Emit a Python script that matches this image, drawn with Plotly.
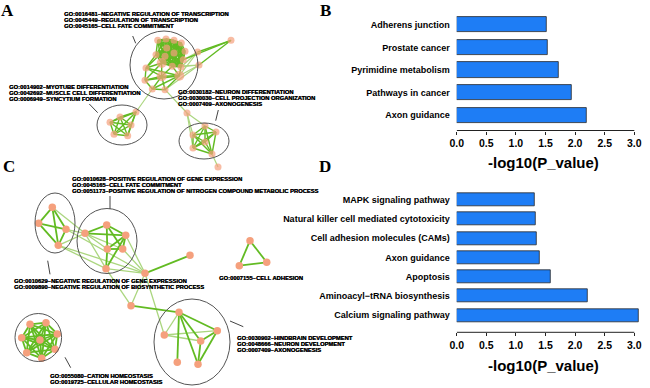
import plotly.graph_objects as go

W, H = 650, 388

# ---------------- Bar chart data ----------------
b_terms = ["Adherens junction", "Prostate cancer", "Pyrimidine metabolism",
           "Pathways in cancer", "Axon guidance"]
b_values = [1.52, 1.54, 1.72, 1.95, 2.20]

d_terms = ["MAPK signaling pathway", "Natural killer cell mediated cytotoxicity",
           "Cell adhesion molecules (CAMs)", "Axon guidance", "Apoptosis",
           "Aminoacyl\u2212tRNA biosynthesis", "Calcium signaling pathway"]
d_values = [1.32, 1.33, 1.35, 1.40, 1.59, 2.21, 3.07]

x_ticks = [0.0, 0.5, 1.0, 1.5, 2.0, 2.5, 3.0]
x_title = "-log10(P_value)"

# ---------------- Network A (node layout positions) ----------------
a_nodes_x = [157.7, 166, 174, 181.3, 166.7, 174, 185, 156, 165, 183.3, 161.7, 172.3, 181,
             146, 161.7, 179.3, 145, 152.3, 165, 197.7, 199, 231,
             120, 136, 110, 131, 114, 127.7,
             187, 205, 216, 193, 205, 193, 212, 218]
a_nodes_y = [40.3, 39, 40.3, 43, 48, 53, 51.3, 54.7, 56.3, 59.7, 63, 66.3, 67,
             68, 76.3, 75.7, 80.3, 89, 89.7, 52, 65, 40.3,
             117, 112, 122.3, 125, 134.3, 135.7,
             113, 126, 132, 135, 142, 148, 154, 167]
a_nodes_size = [7] * 10 + [10] + [7] * 3 + [10, 10] + [7] * 20

a_core = list(range(13))
a_thick = [(i, j) for i in a_core for j in a_core if i < j]
a_thick += [(13, 14), (13, 15), (13, 16), (14, 15), (14, 16), (14, 17), (14, 18), (15, 16),
            (15, 17), (15, 18), (16, 17), (17, 18), (15, 12), (14, 10), (13, 10), (13, 7),
            (16, 10), (15, 11), (14, 11), (13, 4),
            (21, 19), (21, 20), (21, 9)]
myo = [22, 23, 24, 25, 26, 27]
a_thick += [(i, j) for i in myo for j in myo if i < j]
neu = [29, 30, 31, 32, 33, 34]
a_thick += [(i, j) for i in neu for j in neu if i < j]
a_light = [(19, 15), (19, 12), (20, 15), (20, 12), (20, 11), (19, 9), (17, 23), (18, 28),
           (28, 31), (28, 29), (28, 33), (34, 35), (20, 18)]

# ---------------- Network C ----------------
c_nodes_x = [52.3, 38.7, 66, 58.3, 85, 106.7, 125.7, 107.3, 122.7, 106, 145, 190, 131,
             179, 164.3, 217.3, 200.7, 177.3, 198,
             250, 239.3, 266.7,
             30, 46, 57.3, 21.7, 40, 55, 26.7, 41.7]
c_nodes_y = [207.3, 223.3, 229.3, 245.3, 233.3, 225, 235.3, 249, 249, 268.7, 273.3, 255.3, 305.7,
             312.3, 335, 330.7, 341, 362.3, 364.3,
             240.7, 265.7, 262.3,
             324.3, 322.7, 334, 337.7, 340, 349.3, 352.7, 358.3]

left = [0, 1, 2, 3]
c_thick = [(i, j) for i in left for j in left if i < j]
c_thick += [(4, 5), (4, 6), (5, 6), (5, 7), (6, 7), (6, 8), (7, 8), (5, 8), (7, 9), (6, 9),
            (10, 11), (12, 13), (13, 15), (13, 16), (13, 17), (13, 18), (15, 16), (15, 18),
            (16, 18), (19, 20), (19, 21), (20, 21)]
bl = list(range(22, 30))
c_thick += [(i, j) for i in bl for j in bl if i < j]
c_light = [(2, 4), (0, 4), (3, 4), (3, 9), (2, 10), (3, 10), (4, 7), (4, 8), (4, 9),
           (9, 10), (6, 10), (10, 12), (9, 12), (10, 14), (13, 14), (14, 15), (14, 16), (8, 10)]

# ellipses: cx, cy, rx, ry
ellipses = [(164, 65, 34, 34), (122, 125, 25, 20), (204, 141, 25, 18),
            (55, 223, 20, 30), (107, 241, 30, 32.5), (192, 342, 38, 43), (38.3, 337.5, 23.3, 24)]
leaders = [(132.7, 36, 135.7, 43.3), (89.3, 104, 97.7, 112.7), (218.3, 110, 215.7, 120.7),
           (110, 196, 110, 209), (47.7, 260.7, 50, 274.3), (230, 321, 243.3, 326.7),
           (65, 357.3, 70.7, 367.7)]

labels = [
    (62.3, 13.7, ["GO:0016481~NEGATIVE REGULATION OF TRANSCRIPTION",
                  "GO:0045449~REGULATION OF TRANSCRIPTION",
                  "GO:0045165~CELL FATE COMMITMENT"]),
    (7.3, 86.7, ["GO:0014902~MYOTUBE DIFFERENTIATION",
                 "GO:0042692~MUSCLE CELL DIFFERENTIATION",
                 "GO:0006949~SYNCYTIUM FORMATION"]),
    (176, 92, ["GO:0030182~NEURON DIFFERENTIATION",
               "GO:0030030~CELL PROJECTION ORGANIZATION",
               "GO:0007409~AXONOGENESIS"]),
    (70, 179, ["GO:0010628~POSITIVE REGULATION OF GENE EXPRESSION",
               "GO:0045165~CELL FATE COMMITMENT",
               "GO:0051173~POSITIVE REGULATION OF NITROGEN COMPOUND METABOLIC PROCESS"]),
    (12.3, 281, ["GO:0010629~NEGATIVE REGULATION OF GENE EXPRESSION",
                 "GO:0009890~NEGATIVE REGULATION OF BIOSYNTHETIC PROCESS"]),
    (217.3, 278.3, ["GO:0007155~CELL ADHESION"]),
    (235.3, 337.7, ["GO:0030902~HINDBRAIN DEVELOPMENT",
                    "GO:0048666~NEURON DEVELOPMENT",
                    "GO:0007409~AXONOGENESIS"]),
    (48.3, 375.7, ["GO:0055080~CATION HOMEOSTASIS",
                   "GO:0019725~CELLULAR HOMEOSTASIS"]),
]
panel_letters = [("A", 7.5, 10), ("B", 325, 10), ("C", 8.7, 166), ("D", 325, 166)]

THICK = "#62BB22"
LIGHT = "#ABD67F"
NODE = "#F5A07D"
BLUE = "#1E7DF5"

fig = go.Figure()


def edge_trace(xs, ys, edges, color, width):
    ex, ey = [], []
    for i, j in edges:
        ex += [xs[i], xs[j], None]
        ey += [ys[i], ys[j], None]
    return go.Scatter(x=ex, y=ey, mode="lines", line=dict(color=color, width=width),
                      hoverinfo="skip", showlegend=False, xaxis="x", yaxis="y")


fig.add_trace(edge_trace(a_nodes_x, a_nodes_y, a_light, LIGHT, 1.2))
fig.add_trace(edge_trace(a_nodes_x, a_nodes_y, a_thick, THICK, 1.4))
fig.add_trace(edge_trace(c_nodes_x, c_nodes_y, c_light, LIGHT, 1.3))
fig.add_trace(edge_trace(c_nodes_x, c_nodes_y, c_thick, THICK, 1.8))
fig.add_trace(go.Scatter(x=a_nodes_x, y=a_nodes_y, mode="markers",
                         marker=dict(color=NODE, size=a_nodes_size, line=dict(width=0)),
                         showlegend=False, xaxis="x", yaxis="y"))
fig.add_trace(go.Scatter(x=c_nodes_x, y=c_nodes_y, mode="markers",
                         marker=dict(color=NODE, size=7.5, line=dict(width=0)),
                         showlegend=False, xaxis="x", yaxis="y"))

# bars
fig.add_trace(go.Bar(x=b_values[::-1], y=list(range(len(b_terms))), orientation="h",
                     width=0.67, marker=dict(color=BLUE, line=dict(color="#2a2a2a", width=0.8)),
                     showlegend=False, xaxis="x2", yaxis="y2"))
fig.add_trace(go.Bar(x=d_values[::-1], y=list(range(len(d_terms))), orientation="h",
                     width=0.67, marker=dict(color=BLUE, line=dict(color="#2a2a2a", width=0.8)),
                     showlegend=False, xaxis="x3", yaxis="y3"))

shapes = []
for cx, cy, rx, ry in ellipses:
    shapes.append(dict(type="circle", xref="x", yref="y", x0=cx - rx, x1=cx + rx,
                       y0=cy - ry, y1=cy + ry, line=dict(color="#555555", width=1)))
for x0, y0, x1, y1 in leaders:
    shapes.append(dict(type="line", xref="x", yref="y", x0=x0, y0=y0, x1=x1, y1=y1,
                       line=dict(color="#444444", width=1)))
for ax in ["2", "3"]:
    shapes.append(dict(type="line", xref="x" + ax, yref="y" + ax + " domain",
                       x0=0, x1=3, y0=0, y1=0, line=dict(color="#222222", width=1)))

annotations = []
for x0, y0, lines in labels:
    for k, t in enumerate(lines):
        annotations.append(dict(x=x0, y=y0 + 6 * k, xref="x", yref="y", text=t,
                                showarrow=False, xanchor="left", yanchor="middle",
                                font=dict(family="Liberation Sans, Arial", size=5.8,
                                          color="black", weight="bold",
                                          shadow="0.35px 0px 0px black")))
for t, x0, y0 in panel_letters:
    annotations.append(dict(x=x0, y=y0, xref="x", yref="y", text=t, showarrow=False,
                            xanchor="center", yanchor="middle",
                            font=dict(family="Liberation Serif, Times New Roman", size=17,
                                      color="black", weight="bold")))
for yy in [162.7, 365]:
    annotations.append(dict(x=543, y=yy, xref="x", yref="y", text=x_title, showarrow=False,
                            xanchor="center", yanchor="middle",
                            font=dict(family="Liberation Sans, Arial", size=15,
                                      color="black", weight="bold")))

xdom = [456.7 / W, (456.7 + 59.2 * 3.1) / W]
tickfont = dict(family="Liberation Sans, Arial", size=10.5, color="black", weight="bold")
catfont = dict(family="Liberation Sans, Arial", size=9, color="black", weight="bold")


def xbar(anchor):
    return dict(domain=xdom, range=[0, 3.1], tickvals=x_ticks,
                ticktext=[f"{v:.1f}" for v in x_ticks], ticks="outside", ticklen=3,
                tickcolor="#222", showgrid=False, zeroline=False, showline=False,
                tickfont=tickfont, anchor=anchor, fixedrange=True, automargin=False)


def ybar(anchor, terms, lo, hi, dom):
    n = len(terms)
    return dict(domain=dom, range=[lo, hi], tickvals=list(range(n)), ticktext=terms[::-1],
                showgrid=False, zeroline=False, showline=False, ticks="",
                tickfont=catfont, anchor=anchor, ticklabelstandoff=6, fixedrange=True,
                automargin=False)


fig.update_layout(
    width=W, height=H, margin=dict(l=0, r=0, t=0, b=0, pad=0),
    paper_bgcolor="white", plot_bgcolor="rgba(0,0,0,0)",
    xaxis=dict(domain=[0, 1], range=[0, W], visible=False, fixedrange=True),
    yaxis=dict(domain=[0, 1], range=[H, 0], visible=False, fixedrange=True),
    xaxis2=xbar("y2"),
    yaxis2=ybar("x2", b_terms, -0.68, 4.7, [1 - 130.5 / H, 1 - 9 / H]),
    xaxis3=xbar("y3"),
    yaxis3=ybar("x3", d_terms, -0.88, 6.7, [1 - 332.3 / H, 1 - 186.2 / H]),
    shapes=shapes, annotations=annotations, bargap=0,
)

fig.write_html("out.html", config={"displayModeBar": False},
               post_script="document.body.style.margin='0';")
